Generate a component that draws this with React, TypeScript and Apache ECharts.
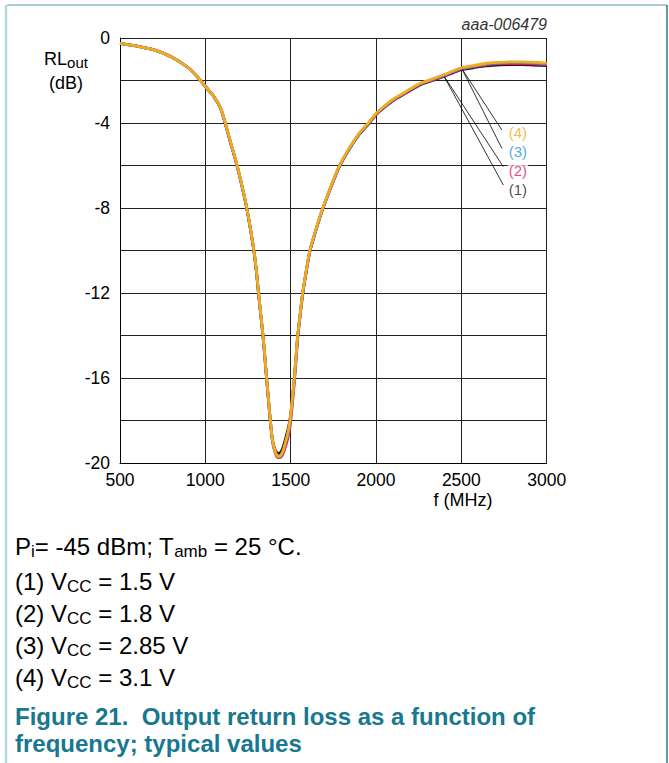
import React, { useEffect, useRef } from 'react';
import * as echarts from 'echarts';

const freq = [500, 600, 700, 800, 900, 950, 1000, 1050, 1090, 1115, 1150, 1185, 1215, 1242, 1265, 1285, 1300, 1312, 1325, 1338, 1349, 1359, 1370, 1381, 1393, 1407, 1420, 1432, 1445, 1458, 1470, 1483, 1496, 1508, 1521, 1531, 1541, 1555, 1570, 1590, 1612, 1648, 1688, 1735, 1786, 1850, 1900, 1961, 2000, 2050, 2100, 2180, 2260, 2330, 2400, 2450, 2500, 2570, 2640, 2710, 2780, 2850, 2920, 3000];

const rl1 = [-0.25, -0.38, -0.56, -0.88, -1.4, -1.8, -2.28, -2.76, -3.33, -3.98, -4.99, -5.99, -6.99, -7.99, -9.04, -10.05, -11.05, -12.05, -13.05, -14.05, -15.05, -16.05, -17.05, -18.05, -18.9, -19.35, -19.52, -19.55, -19.45, -19.2, -18.85, -18.45, -17.95, -17.1, -16.05, -15.05, -14.05, -13.05, -12.05, -11.05, -10.05, -9.04, -8.04, -7.04, -6.04, -5.14, -4.55, -4.0, -3.61, -3.26, -2.94, -2.57, -2.2, -2.0, -1.8, -1.64, -1.49, -1.4, -1.31, -1.27, -1.25, -1.25, -1.27, -1.3];
const rl2 = [-0.25, -0.38, -0.56, -0.88, -1.4, -1.8, -2.28, -2.76, -3.32, -3.97, -4.98, -5.98, -6.98, -7.98, -9.03, -10.05, -11.05, -12.05, -13.05, -14.05, -15.05, -16.05, -17.05, -18.05, -18.95, -19.47, -19.72, -19.75, -19.7, -19.5, -19.22, -18.85, -18.3, -17.4, -16.25, -15.2, -14.15, -13.1, -12.08, -11.05, -10.04, -9.03, -8.03, -7.03, -6.03, -5.13, -4.54, -3.98, -3.59, -3.24, -2.92, -2.55, -2.18, -1.98, -1.78, -1.61, -1.46, -1.36, -1.27, -1.22, -1.2, -1.2, -1.22, -1.26];
const rl3 = [-0.25, -0.38, -0.56, -0.88, -1.4, -1.8, -2.28, -2.76, -3.32, -3.96, -4.97, -5.97, -6.97, -7.97, -9.02, -10.03, -11.03, -12.03, -13.03, -14.03, -15.02, -16.02, -17.02, -18.02, -18.92, -19.42, -19.67, -19.72, -19.63, -19.4, -19.06, -18.66, -18.07, -17.18, -16.05, -15.05, -14.04, -13.04, -12.03, -11.03, -10.02, -9.02, -8.02, -7.02, -6.02, -5.12, -4.52, -3.96, -3.57, -3.22, -2.9, -2.52, -2.15, -1.95, -1.75, -1.58, -1.43, -1.33, -1.23, -1.18, -1.15, -1.15, -1.17, -1.21];
const rl4 = [-0.25, -0.38, -0.56, -0.88, -1.4, -1.8, -2.28, -2.75, -3.3, -3.94, -4.95, -5.95, -6.95, -7.95, -9.0, -10.0, -11.0, -12.0, -13.0, -14.0, -15.0, -16.0, -17.0, -18.0, -18.9, -19.4, -19.65, -19.7, -19.6, -19.35, -19.0, -18.6, -18.0, -17.1, -16.0, -15.0, -14.0, -13.0, -12.0, -11.0, -10.0, -9.0, -8.0, -7.0, -6.0, -5.1, -4.5, -3.94, -3.55, -3.2, -2.88, -2.5, -2.13, -1.93, -1.72, -1.55, -1.4, -1.3, -1.2, -1.15, -1.12, -1.12, -1.14, -1.18];

const curveNames = ['(1)', '(2)', '(3)', '(4)'];
const curveColors = ['#1a1a1a', '#e5195e', '#1e98d6', '#f6a91b'];
const curves = [rl1, rl2, rl3, rl4];

const leaderStarts = [[2394, -1.74], [2394, -1.74], [2502, -1.43], [2502, -1.43]];
const leaderEnds = [[2746, -6.92], [2746, -6.06], [2737, -5.19], [2737, -4.33]];
const labelPos = [[2769, -7.11], [2769, -6.24], [2769, -5.36], [2769, -4.46]];

const captionLines = [
  '{m|P}{s|i}{m|= -45 dBm; T}{s|amb}{m| = 25 °C.}',
  '{m|(1) V}{s|CC}{m| = 1.5 V}',
  '{m|(2) V}{s|CC}{m| = 1.8 V}',
  '{m|(3) V}{s|CC}{m| = 2.85 V}',
  '{m|(4) V}{s|CC}{m| = 3.1 V}',
];
const captionY = [546, 581, 613, 645, 677];
const figureTitle = ['Figure 21.  Output return loss as a function of', 'frequency; typical values'];
const figureTitleY = [716, 743];

const FONT = '"Liberation Sans", Arial, Helvetica, sans-serif';

export default function App() {
  const ref = useRef<HTMLDivElement>(null);
  useEffect(() => {
    document.body.style.margin = '0';
    const chart = echarts.init(ref.current!, null, { renderer: 'svg' });
    const richCaption = {
      m: { fontSize: 24, fontFamily: FONT, color: '#000' },
      s: { fontSize: 17, fontFamily: FONT, color: '#000', padding: [10, 0, 0, 0] },
    };
    const graphics: any[] = [
      { type: 'line', shape: { x1: 7, y1: 5, x2: 667, y2: 5 }, style: { stroke: '#a8cdd5', lineWidth: 2 }, silent: true },
      { type: 'line', shape: { x1: 6, y1: 5, x2: 6, y2: 763 }, style: { stroke: '#b5d5df', lineWidth: 2.5 }, silent: true },
      { type: 'line', shape: { x1: 667, y1: 5, x2: 667, y2: 763 }, style: { stroke: '#2b7a90', lineWidth: 1.5 }, silent: true },
      { type: 'text', x: 547, y: 24, style: { text: 'aaa-006479', fontSize: 16, fontStyle: 'italic', fontFamily: FONT, fill: '#333', align: 'right', verticalAlign: 'middle' } },
      {
        type: 'text', x: 66, y: 59,
        style: {
          text: '{a|RL}{s|out}', align: 'center', verticalAlign: 'middle',
          rich: { a: { fontSize: 18, fontFamily: FONT, color: '#000' }, s: { fontSize: 15, fontFamily: FONT, color: '#000', padding: [7, 0, 0, 0] } },
        },
      },
      { type: 'text', x: 66, y: 83, style: { text: '(dB)', fontSize: 18, fontFamily: FONT, fill: '#000', align: 'center', verticalAlign: 'middle' } },
      { type: 'text', x: 463, y: 500, style: { text: 'f (MHz)', fontSize: 18, fontFamily: FONT, fill: '#000', align: 'center', verticalAlign: 'middle' } },
    ];
    captionLines.forEach((t, i) => {
      graphics.push({ type: 'text', x: 15, y: captionY[i], style: { text: t, rich: richCaption, align: 'left', verticalAlign: 'middle' } });
    });
    figureTitle.forEach((t, i) => {
      graphics.push({ type: 'text', x: 15, y: figureTitleY[i], style: { text: t, fontSize: 24, fontWeight: 'bold', fontFamily: FONT, fill: '#17788f', align: 'left', verticalAlign: 'middle' } });
    });

    const series: any[] = curves.map((vals, i) => ({
      name: curveNames[i],
      type: 'line',
      data: freq.map((f, j) => [f, vals[j]]),
      showSymbol: false,
      smooth: 0.25,
      lineStyle: { color: curveColors[i], width: 2.8 },
      itemStyle: { color: curveColors[i] },
      z: 3 + i,
      silent: true,
    }));
    series.push({
      type: 'scatter',
      symbolSize: 1,
      itemStyle: { color: 'rgba(0,0,0,0)' },
      z: 10,
      silent: true,
      data: labelPos.map((p, i) => ({
        value: p,
        label: {
          show: true,
          formatter: curveNames[i],
          color: curveColors[i],
          position: 'right',
          distance: 0,
          fontSize: 15,
          fontFamily: FONT,
          backgroundColor: '#fff',
          padding: [0, 1],
        },
      })),
      markLine: {
        silent: true,
        symbol: ['none', 'none'],
        label: { show: false },
        lineStyle: { color: '#000', width: 0.8, type: 'solid' },
        data: leaderStarts.map((s, i) => [{ coord: s }, { coord: leaderEnds[i] }]),
      },
    });

    chart.setOption({
      animation: false,
      backgroundColor: '#fff',
      textStyle: { fontFamily: FONT },
      grid: { left: 120, top: 38, width: 426.7, height: 425, containLabel: false },
      xAxis: {
        type: 'value', min: 500, max: 3000, interval: 500,
        axisLine: { show: true, onZero: false, lineStyle: { color: '#000', width: 1 } },
        axisTick: { show: false },
        axisLabel: { fontSize: 17.5, color: '#000', margin: 8, fontFamily: FONT, formatter: (v: number) => String(v) },
        splitLine: { show: true, lineStyle: { color: '#222', width: 1 } },
      },
      yAxis: {
        type: 'value', min: -20, max: 0, interval: 2,
        axisLine: { show: true, onZero: false, lineStyle: { color: '#000', width: 1 } },
        axisTick: { show: false },
        axisLabel: {
          fontSize: 17.5, color: '#000', margin: 10, fontFamily: FONT,
          formatter: (v: number) => (Math.round(v) % 4 === 0 ? String(v) : ''),
        },
        splitLine: { show: true, lineStyle: { color: '#222', width: 1 } },
      },
      graphic: graphics,
      series,
    });
    return () => chart.dispose();
  }, []);
  return <div ref={ref} style={{ width: 669, height: 763 }} />;
}
